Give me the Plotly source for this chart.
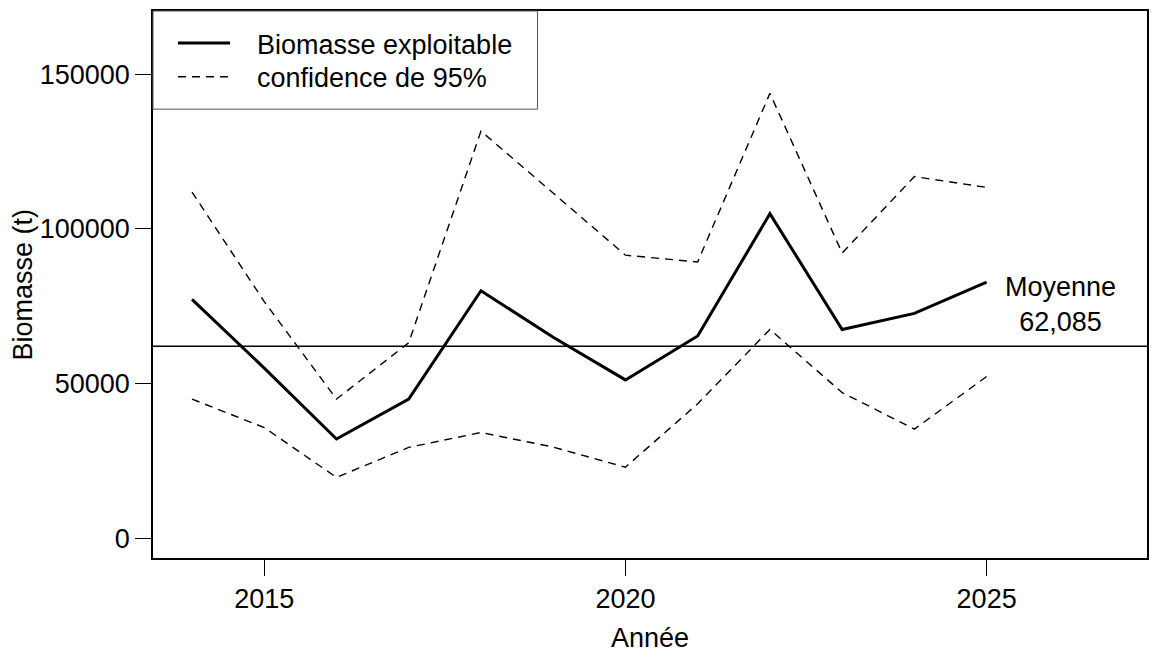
import plotly.graph_objects as go

# Exploitable biomass series with its 95% confidence bounds (tonnes)
years = [2014, 2015, 2016, 2017, 2018, 2019, 2020, 2021, 2022, 2023, 2024, 2025]
biomass = [77200, 55000, 32100, 45000, 80000, 65000, 51200, 65400, 104900, 67500, 72700, 82800]
upper_95 = [111900, 76500, 45000, 63200, 131600, 111500, 91500, 89300, 143800, 92200, 116900, 113400]
lower_95 = [45000, 35800, 19700, 29400, 34200, 29500, 23000, 43500, 67500, 47100, 35300, 52300]
mean_biomass = 62085

x_ticks = [2015, 2020, 2025]
y_ticks = [0, 50000, 100000, 150000]
y_ticklabels = [str(v) for v in y_ticks]

legend_labels = ["Biomasse exploitable", "confidence de 95%"]

FONT = "Liberation Sans, Arial, sans-serif"
FS = 27
W, H = 1159, 654
M_L, M_R, M_T, M_B = 153, 12, 9, 96
PLOT_W = W - M_L - M_R
PLOT_H = H - M_T - M_B


def px_x(p):
    """pixel column -> paper x"""
    return (p - M_L) / PLOT_W


def px_y(p):
    """pixel row -> paper y"""
    return (H - M_B - p) / PLOT_H


fig = go.Figure()

dash_style = "8px,6px"
fig.add_trace(go.Scatter(x=years, y=upper_95, mode="lines",
                         line=dict(color="black", width=1.4, dash=dash_style),
                         showlegend=False, hoverinfo="skip"))
fig.add_trace(go.Scatter(x=years, y=lower_95, mode="lines",
                         line=dict(color="black", width=1.4, dash=dash_style),
                         showlegend=False, hoverinfo="skip"))
fig.add_trace(go.Scatter(x=years, y=biomass, mode="lines",
                         line=dict(color="black", width=3),
                         showlegend=False))

# long-term mean
fig.add_shape(type="line", xref="paper", yref="y", x0=0, x1=1,
              y0=mean_biomass, y1=mean_biomass,
              line=dict(color="black", width=1.5))
fig.add_annotation(x=2026.02, y=75700, xref="x", yref="y",
                   text=f"Moyenne<br>{mean_biomass:,}", showarrow=False,
                   font=dict(family=FONT, size=FS, color="black"),
                   xanchor="center", yanchor="middle", align="center")

# legend box
fig.add_shape(type="rect", xref="paper", yref="paper",
              x0=0, x1=px_x(537.5), y0=px_y(107.5), y1=1,
              line=dict(color="#555555", width=1), fillcolor="white", layer="above")
fig.add_shape(type="line", xref="paper", yref="paper",
              x0=px_x(178), x1=px_x(230), y0=px_y(41), y1=px_y(41),
              line=dict(color="black", width=3))
fig.add_shape(type="line", xref="paper", yref="paper",
              x0=px_x(178), x1=px_x(230), y0=px_y(75), y1=px_y(75),
              line=dict(color="black", width=1.4, dash=dash_style))
for label, py in zip(legend_labels, [43, 76]):
    fig.add_annotation(x=px_x(255), y=px_y(py), xref="paper", yref="paper",
                       text=label, showarrow=False, xanchor="left", yanchor="middle",
                       font=dict(family=FONT, size=FS, color="black"))

# axis titles
fig.add_annotation(x=0, y=0.5, xref="paper", yref="paper", xshift=-131,
                   text="Biomasse (t)", textangle=-90, showarrow=False,
                   xanchor="center", yanchor="middle",
                   font=dict(family=FONT, size=FS, color="black"))
fig.add_annotation(x=0.5, y=0, xref="paper", yref="paper", yshift=-80,
                   text="Année", showarrow=False, xanchor="center", yanchor="middle",
                   font=dict(family=FONT, size=FS, color="black"))

axis_common = dict(showgrid=False, zeroline=False, showline=True, mirror=True,
                   linecolor="black", linewidth=1.6, ticks="outside", ticklen=16,
                   tickwidth=1.4, tickcolor="black",
                   tickfont=dict(family=FONT, size=FS, color="black"))

fig.update_xaxes(range=[2013.46, 2027.22], tickvals=x_ticks,
                 ticktext=[str(t) for t in x_ticks], **axis_common)
fig.update_yaxes(range=[-6345, 170400], tickvals=y_ticks,
                 ticktext=y_ticklabels, **axis_common)

fig.update_layout(width=W, height=H,
                  margin=dict(l=M_L, r=M_R, t=M_T, b=M_B, pad=0),
                  paper_bgcolor="white", plot_bgcolor="white",
                  font=dict(family=FONT, size=FS, color="black"),
                  showlegend=False)

fig.write_html("out.html")
